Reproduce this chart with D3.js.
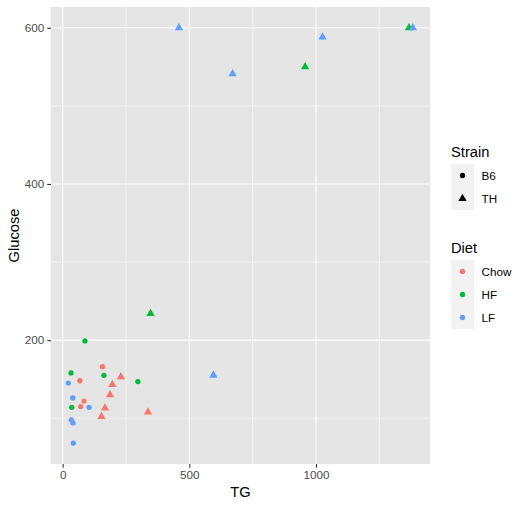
<!DOCTYPE html>
<html>
<head>
<meta charset="utf-8">
<script src="https://cdn.jsdelivr.net/npm/d3@7"></script>
<style>
  body { margin: 0; background: #ffffff; }
  svg text { font-family: "Liberation Sans", Arial, Helvetica, sans-serif; }
</style>
</head>
<body>
<svg id="chart" width="526" height="507"></svg>
<script>
// values, one entry per mouse
var tg      = [157, 68, 84, 71,   88, 33, 163, 297, 36,   22, 40, 104, 34, 41, 42,
               230, 196, 187, 167, 337, 153,   347, 957, 1367,   595, 459, 671, 1026, 1382];
var glucose = [166, 148, 122, 115,   199, 158, 155, 147, 114,   145, 126, 114, 98, 94, 68,
               153, 143, 130, 113, 108, 102,   234, 550, 600,   155, 600, 541, 588, 600];
var strain  = ["B6","B6","B6","B6",  "B6","B6","B6","B6","B6",  "B6","B6","B6","B6","B6","B6",
               "TH","TH","TH","TH","TH","TH",  "TH","TH","TH",  "TH","TH","TH","TH","TH"];
var diet    = ["Chow","Chow","Chow","Chow",  "HF","HF","HF","HF","HF",  "LF","LF","LF","LF","LF","LF",
               "Chow","Chow","Chow","Chow","Chow","Chow",  "HF","HF","HF",  "LF","LF","LF","LF","LF"];

var strains = ["B6", "TH"];
var diets = ["Chow", "HF", "LF"];
var dietColors = ["#F8766D", "#00BA38", "#619CFF"];
var xTicks = [0, 500, 1000];
var xMinor = [250, 750, 1250];
var yTicks = [200, 400, 600];
var yMinor = [100, 300, 500];

var panel = { left: 51, top: 7, right: 430, bottom: 464 };

var rows = tg.map(function( v, i ) {
    return { tg: v, glucose: glucose[i], strain: strain[i], diet: diet[i] };
});

// ggplot style 5% expansion
var expand = function( ext ) {
    var pad = ( ext[1] - ext[0] ) * 0.05;
    return [ ext[0] - pad, ext[1] + pad ];
};

var x = d3.scaleLinear()
  .domain( expand( d3.extent( tg ) ) )
  .range( [ panel.left, panel.right ] );
var y = d3.scaleLinear()
  .domain( expand( d3.extent( glucose ) ) )
  .range( [ panel.bottom, panel.top ] );
var color = d3.scaleOrdinal().domain( diets ).range( dietColors );
var shape = d3.scaleOrdinal().domain( strains ).range( [ d3.symbolCircle, d3.symbolTriangle ] );
var shapeSize = d3.scaleOrdinal().domain( strains ).range( [ 22, 30 ] );

var svg = d3.select( "#chart" );

svg.append( "rect" )
  .attr( "x", panel.left ).attr( "y", panel.top )
  .attr( "width", panel.right - panel.left )
  .attr( "height", panel.bottom - panel.top )
  .attr( "fill", "#E5E5E5" );

var grid = svg.append( "g" ).attr( "stroke", "#ffffff" );
grid.selectAll( "line.xminor" ).data( xMinor ).enter().append( "line" )
  .attr( "x1", x ).attr( "x2", x )
  .attr( "y1", panel.top ).attr( "y2", panel.bottom )
  .attr( "stroke-width", 0.55 );
grid.selectAll( "line.yminor" ).data( yMinor ).enter().append( "line" )
  .attr( "y1", y ).attr( "y2", y )
  .attr( "x1", panel.left ).attr( "x2", panel.right )
  .attr( "stroke-width", 0.55 );
grid.selectAll( "line.xmajor" ).data( xTicks ).enter().append( "line" )
  .attr( "x1", x ).attr( "x2", x )
  .attr( "y1", panel.top ).attr( "y2", panel.bottom )
  .attr( "stroke-width", 1.1 );
grid.selectAll( "line.ymajor" ).data( yTicks ).enter().append( "line" )
  .attr( "y1", y ).attr( "y2", y )
  .attr( "x1", panel.left ).attr( "x2", panel.right )
  .attr( "stroke-width", 1.1 );

// axes
var xAxis = svg.append( "g" )
  .attr( "transform", "translate(0," + panel.bottom + ")" )
  .call( d3.axisBottom( x ).tickValues( xTicks ).tickFormat( d3.format( "d" ) ).tickSize( 3.7 ).tickPadding( 2.5 ) );
var yAxis = svg.append( "g" )
  .attr( "transform", "translate(" + panel.left + ",0)" )
  .call( d3.axisLeft( y ).tickValues( yTicks ).tickFormat( d3.format( "d" ) ).tickSize( 3.7 ).tickPadding( 3 ) );
[ xAxis, yAxis ].forEach( function( a ) {
    a.select( ".domain" ).remove();
    a.selectAll( "line" ).attr( "stroke", "#333333" ).attr( "stroke-width", 1.1 );
    a.selectAll( "text" )
      .attr( "fill", "#4D4D4D" )
      .style( "font-size", "11.7px" )
      .style( "font-family", "'Liberation Sans', Arial, sans-serif" );
});

svg.append( "text" )
  .text( "TG" )
  .attr( "x", ( panel.left + panel.right ) / 2 )
  .attr( "y", 497 )
  .attr( "text-anchor", "middle" )
  .style( "font-size", "14.7px" );
svg.append( "text" )
  .text( "Glucose" )
  .attr( "transform", "translate(19," + ( panel.top + panel.bottom ) / 2 + ") rotate(-90)" )
  .attr( "text-anchor", "middle" )
  .style( "font-size", "14.7px" );

// points
svg.append( "g" ).selectAll( "path" ).data( rows ).enter().append( "path" )
  .attr( "d", function( d ) { return d3.symbol( shape( d.strain ), shapeSize( d.strain ) )(); } )
  .attr( "transform", function( d ) { return "translate(" + x( d.tg ) + "," + y( d.glucose ) + ")"; } )
  .attr( "fill", function( d ) { return color( d.diet ); } );

// legends
var addLegend = function( top, title, keys, symbolFor, colorFor ) {
    var g = svg.append( "g" ).attr( "transform", "translate(451," + top + ")" );
    g.append( "text" ).text( title )
      .attr( "x", 0 ).attr( "y", 10 )
      .style( "font-size", "14.7px" );
    g.append( "rect" )
      .attr( "x", 0 ).attr( "y", 17.5 )
      .attr( "width", 23 ).attr( "height", 23 * keys.length )
      .attr( "fill", "#F2F2F2" );
    var item = g.selectAll( "g.key" ).data( keys ).enter().append( "g" )
      .attr( "transform", function( d, i ) { return "translate(0," + ( 17.5 + 23 * i ) + ")"; } );
    item.append( "path" )
      .attr( "d", function( d ) { return d3.symbol( symbolFor( d ), symbolFor( d ) == d3.symbolCircle ? 22 : 30 )(); } )
      .attr( "transform", "translate(11.5,11.5)" )
      .attr( "fill", colorFor );
    item.append( "text" ).text( function( d ) { return d; } )
      .attr( "x", 30.5 ).attr( "y", 15.6 )
      .style( "font-size", "11.7px" );
};
addLegend( 146.5, "Strain", strains, shape, function() { return "#000000"; } );
addLegend( 242.5, "Diet", diets, function() { return d3.symbolCircle; }, color );
</script>
</body>
</html>
